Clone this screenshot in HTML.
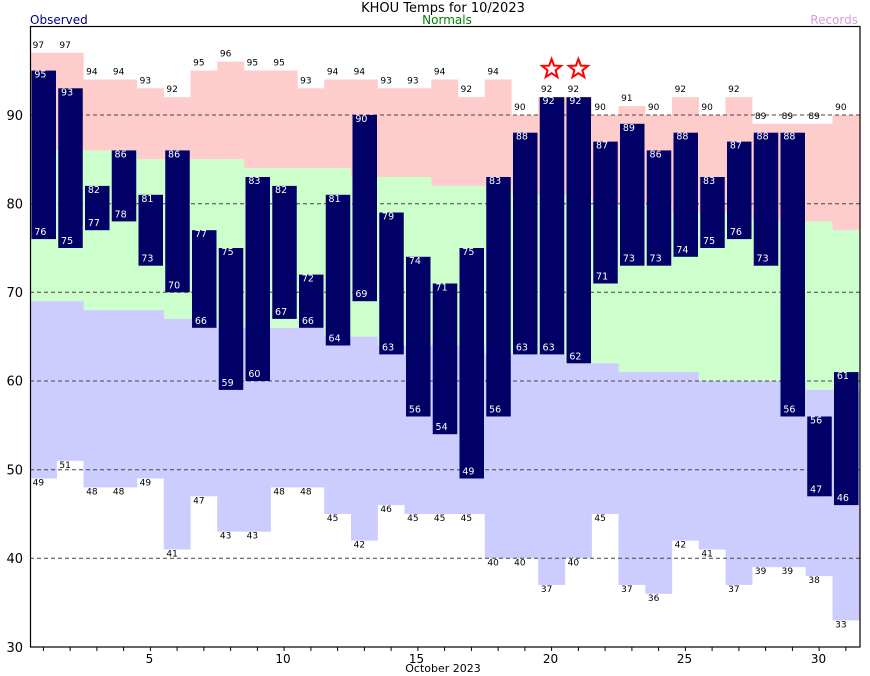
<!DOCTYPE html>
<html><head><meta charset="utf-8"><style>
html,body{margin:0;padding:0;background:#fff;}
svg{display:block;font-family:"DejaVu Sans","Liberation Sans",sans-serif;}
.rh,.rl{font-size:9px;fill:#000;text-anchor:middle;}
.oh,.ol{font-size:9.5px;fill:#fff;text-anchor:middle;}
.ya{font-size:13px;text-anchor:end;}
.xa{font-size:12px;text-anchor:middle;}
</style></head><body>
<svg width="870" height="676" viewBox="0 0 870 676" xmlns="http://www.w3.org/2000/svg">
<rect width="870" height="676" fill="#fff"/>
<g id="fills">
<g fill="#ffcccc">
<rect x="30" y="52.8" width="26.9" height="97.6"/><rect x="56.75" y="52.8" width="26.9" height="97.6"/><rect x="83.5" y="79.5" width="26.9" height="70.9"/><rect x="110.25" y="79.5" width="26.9" height="70.9"/><rect x="137" y="88.3" width="26.9" height="71"/><rect x="163.75" y="97.2" width="26.9" height="62.1"/><rect x="190.5" y="70.6" width="26.9" height="88.7"/><rect x="217.25" y="61.7" width="26.9" height="97.6"/><rect x="244" y="70.6" width="26.9" height="97.6"/><rect x="270.75" y="70.6" width="26.9" height="97.6"/><rect x="297.5" y="88.3" width="26.9" height="79.9"/><rect x="324.25" y="79.5" width="26.9" height="88.7"/><rect x="351" y="79.5" width="26.9" height="97.5"/><rect x="377.75" y="88.3" width="26.9" height="88.7"/><rect x="404.5" y="88.3" width="26.9" height="88.7"/><rect x="431.25" y="79.5" width="26.9" height="106.4"/><rect x="458" y="97.2" width="26.9" height="88.7"/><rect x="484.75" y="79.5" width="26.9" height="106.4"/><rect x="511.5" y="115" width="26.9" height="79.8"/><rect x="538.25" y="97.2" width="26.9" height="97.6"/><rect x="565" y="97.2" width="26.9" height="97.6"/><rect x="591.75" y="115" width="26.9" height="88.7"/><rect x="618.5" y="106.1" width="26.9" height="97.6"/><rect x="645.25" y="115" width="26.9" height="88.7"/><rect x="672" y="97.2" width="26.9" height="115.3"/><rect x="698.75" y="115" width="26.9" height="97.5"/><rect x="725.5" y="97.2" width="26.9" height="115.3"/><rect x="752.25" y="123.8" width="26.9" height="97.6"/><rect x="779" y="123.8" width="26.9" height="97.6"/><rect x="805.75" y="123.8" width="26.9" height="97.6"/><rect x="832.5" y="115" width="27.5" height="115.2"/>
</g>
<g fill="#ccffcc">
<rect x="30" y="150.4" width="26.9" height="150.8"/><rect x="56.75" y="150.4" width="26.9" height="150.8"/><rect x="83.5" y="150.4" width="26.9" height="159.7"/><rect x="110.25" y="150.4" width="26.9" height="159.7"/><rect x="137" y="159.3" width="26.9" height="150.8"/><rect x="163.75" y="159.3" width="26.9" height="159.6"/><rect x="190.5" y="159.3" width="26.9" height="159.6"/><rect x="217.25" y="159.3" width="26.9" height="168.5"/><rect x="244" y="168.2" width="26.9" height="159.6"/><rect x="270.75" y="168.2" width="26.9" height="159.6"/><rect x="297.5" y="168.2" width="26.9" height="159.6"/><rect x="324.25" y="168.2" width="26.9" height="168.5"/><rect x="351" y="177" width="26.9" height="159.7"/><rect x="377.75" y="177" width="26.9" height="168.5"/><rect x="404.5" y="177" width="26.9" height="168.5"/><rect x="431.25" y="185.9" width="26.9" height="159.6"/><rect x="458" y="185.9" width="26.9" height="159.6"/><rect x="484.75" y="185.9" width="26.9" height="168.5"/><rect x="511.5" y="194.8" width="26.9" height="159.6"/><rect x="538.25" y="194.8" width="26.9" height="159.6"/><rect x="565" y="194.8" width="26.9" height="168.5"/><rect x="591.75" y="203.7" width="26.9" height="159.6"/><rect x="618.5" y="203.7" width="26.9" height="168.4"/><rect x="645.25" y="203.7" width="26.9" height="168.4"/><rect x="672" y="212.5" width="26.9" height="159.6"/><rect x="698.75" y="212.5" width="26.9" height="168.5"/><rect x="725.5" y="212.5" width="26.9" height="168.5"/><rect x="752.25" y="221.4" width="26.9" height="159.6"/><rect x="779" y="221.4" width="26.9" height="159.6"/><rect x="805.75" y="221.4" width="26.9" height="168.5"/><rect x="832.5" y="230.2" width="27.5" height="159.7"/>
</g>
<g fill="#ccccff">
<rect x="30" y="301.2" width="26.9" height="177.3"/><rect x="56.75" y="301.2" width="26.9" height="159.6"/><rect x="83.5" y="310.1" width="26.9" height="177.3"/><rect x="110.25" y="310.1" width="26.9" height="177.3"/><rect x="137" y="310.1" width="26.9" height="168.4"/><rect x="163.75" y="318.9" width="26.9" height="230.6"/><rect x="190.5" y="318.9" width="26.9" height="177.4"/><rect x="217.25" y="327.8" width="26.9" height="203.9"/><rect x="244" y="327.8" width="26.9" height="203.9"/><rect x="270.75" y="327.8" width="26.9" height="159.6"/><rect x="297.5" y="327.8" width="26.9" height="159.6"/><rect x="324.25" y="336.7" width="26.9" height="177.3"/><rect x="351" y="336.7" width="26.9" height="203.9"/><rect x="377.75" y="345.5" width="26.9" height="159.6"/><rect x="404.5" y="345.5" width="26.9" height="168.5"/><rect x="431.25" y="345.5" width="26.9" height="168.5"/><rect x="458" y="345.5" width="26.9" height="168.5"/><rect x="484.75" y="354.4" width="26.9" height="203.9"/><rect x="511.5" y="354.4" width="26.9" height="203.9"/><rect x="538.25" y="354.4" width="26.9" height="230.5"/><rect x="565" y="363.3" width="26.9" height="195"/><rect x="591.75" y="363.3" width="26.9" height="150.7"/><rect x="618.5" y="372.1" width="26.9" height="212.8"/><rect x="645.25" y="372.1" width="26.9" height="221.7"/><rect x="672" y="372.1" width="26.9" height="168.5"/><rect x="698.75" y="381" width="26.9" height="168.5"/><rect x="725.5" y="381" width="26.9" height="203.9"/><rect x="752.25" y="381" width="26.9" height="186.2"/><rect x="779" y="381" width="26.9" height="186.2"/><rect x="805.75" y="389.9" width="26.9" height="186.2"/><rect x="832.5" y="389.9" width="27.5" height="230.5"/>
</g>
</g>
<g stroke="#444" stroke-width="1" stroke-dasharray="4,3">
<line x1="30" y1="115" x2="860" y2="115"/><line x1="30" y1="203.7" x2="860" y2="203.7"/><line x1="30" y1="292.3" x2="860" y2="292.3"/><line x1="30" y1="381" x2="860" y2="381"/><line x1="30" y1="469.7" x2="860" y2="469.7"/><line x1="30" y1="558.3" x2="860" y2="558.3"/>
</g>
<g fill="#000066">
<rect x="31.5" y="70.6" width="24.5" height="168.5"/><rect x="58.25" y="88.3" width="24.5" height="159.7"/><rect x="85" y="185.9" width="24.5" height="44.3"/><rect x="111.75" y="150.4" width="24.5" height="71"/><rect x="138.5" y="194.8" width="24.5" height="70.9"/><rect x="165.25" y="150.4" width="24.5" height="141.9"/><rect x="192" y="230.2" width="24.5" height="97.6"/><rect x="218.75" y="248" width="24.5" height="141.9"/><rect x="245.5" y="177" width="24.5" height="204"/><rect x="272.25" y="185.9" width="24.5" height="133"/><rect x="299" y="274.6" width="24.5" height="53.2"/><rect x="325.75" y="194.8" width="24.5" height="150.7"/><rect x="352.5" y="115" width="24.5" height="186.2"/><rect x="379.25" y="212.5" width="24.5" height="141.9"/><rect x="406" y="256.8" width="24.5" height="159.7"/><rect x="432.75" y="283.5" width="24.5" height="150.7"/><rect x="459.5" y="248" width="24.5" height="230.5"/><rect x="486.25" y="177" width="24.5" height="239.5"/><rect x="513" y="132.7" width="24.5" height="221.7"/><rect x="539.75" y="97.2" width="24.5" height="257.2"/><rect x="566.5" y="97.2" width="24.5" height="266.1"/><rect x="593.25" y="141.6" width="24.5" height="141.9"/><rect x="620" y="123.8" width="24.5" height="141.9"/><rect x="646.75" y="150.4" width="24.5" height="115.3"/><rect x="673.5" y="132.7" width="24.5" height="124.1"/><rect x="700.25" y="177" width="24.5" height="71"/><rect x="727" y="141.6" width="24.5" height="97.5"/><rect x="753.75" y="132.7" width="24.5" height="133"/><rect x="780.5" y="132.7" width="24.5" height="283.8"/><rect x="807.25" y="416.5" width="24.5" height="79.8"/><rect x="834" y="372.1" width="24.5" height="133"/>
</g>
<g transform="translate(-5,0)">
<text x="43.4" y="47.8" class="rh">97</text><text x="70.1" y="47.8" class="rh">97</text><text x="96.9" y="74.5" class="rh">94</text><text x="123.6" y="74.5" class="rh">94</text><text x="150.4" y="83.3" class="rh">93</text><text x="177.1" y="92.2" class="rh">92</text><text x="203.9" y="65.6" class="rh">95</text><text x="230.6" y="56.7" class="rh">96</text><text x="257.4" y="65.6" class="rh">95</text><text x="284.1" y="65.6" class="rh">95</text><text x="310.9" y="83.3" class="rh">93</text><text x="337.6" y="74.5" class="rh">94</text><text x="364.4" y="74.5" class="rh">94</text><text x="391.1" y="83.3" class="rh">93</text><text x="417.9" y="83.3" class="rh">93</text><text x="444.6" y="74.5" class="rh">94</text><text x="471.4" y="92.2" class="rh">92</text><text x="498.1" y="74.5" class="rh">94</text><text x="524.9" y="110" class="rh">90</text><text x="551.6" y="92.2" class="rh">92</text><text x="578.4" y="92.2" class="rh">92</text><text x="605.1" y="110" class="rh">90</text><text x="631.9" y="101.1" class="rh">91</text><text x="658.6" y="110" class="rh">90</text><text x="685.4" y="92.2" class="rh">92</text><text x="712.1" y="110" class="rh">90</text><text x="738.9" y="92.2" class="rh">92</text><text x="765.6" y="118.8" class="rh">89</text><text x="792.4" y="118.8" class="rh">89</text><text x="819.1" y="118.8" class="rh">89</text><text x="845.9" y="110" class="rh">90</text>
</g>
<g transform="translate(-5,-3)">
<text x="43.4" y="488.5" class="rl">49</text><text x="70.1" y="470.8" class="rl">51</text><text x="96.9" y="497.4" class="rl">48</text><text x="123.6" y="497.4" class="rl">48</text><text x="150.4" y="488.5" class="rl">49</text><text x="177.1" y="559.5" class="rl">41</text><text x="203.9" y="506.3" class="rl">47</text><text x="230.6" y="541.7" class="rl">43</text><text x="257.4" y="541.7" class="rl">43</text><text x="284.1" y="497.4" class="rl">48</text><text x="310.9" y="497.4" class="rl">48</text><text x="337.6" y="524" class="rl">45</text><text x="364.4" y="550.6" class="rl">42</text><text x="391.1" y="515.1" class="rl">46</text><text x="417.9" y="524" class="rl">45</text><text x="444.6" y="524" class="rl">45</text><text x="471.4" y="524" class="rl">45</text><text x="498.1" y="568.3" class="rl">40</text><text x="524.9" y="568.3" class="rl">40</text><text x="551.6" y="594.9" class="rl">37</text><text x="578.4" y="568.3" class="rl">40</text><text x="605.1" y="524" class="rl">45</text><text x="631.9" y="594.9" class="rl">37</text><text x="658.6" y="603.8" class="rl">36</text><text x="685.4" y="550.6" class="rl">42</text><text x="712.1" y="559.5" class="rl">41</text><text x="738.9" y="594.9" class="rl">37</text><text x="765.6" y="577.2" class="rl">39</text><text x="792.4" y="577.2" class="rl">39</text><text x="819.1" y="586.1" class="rl">38</text><text x="845.9" y="630.4" class="rl">33</text>
</g>
<g transform="translate(-3,-3)">
<text x="43.4" y="80.6" class="oh">95</text><text x="70.1" y="98.3" class="oh">93</text><text x="96.9" y="195.9" class="oh">82</text><text x="123.6" y="160.4" class="oh">86</text><text x="150.4" y="204.8" class="oh">81</text><text x="177.1" y="160.4" class="oh">86</text><text x="203.9" y="240.2" class="oh">77</text><text x="230.6" y="258" class="oh">75</text><text x="257.4" y="187" class="oh">83</text><text x="284.1" y="195.9" class="oh">82</text><text x="310.9" y="284.6" class="oh">72</text><text x="337.6" y="204.8" class="oh">81</text><text x="364.4" y="125" class="oh">90</text><text x="391.1" y="222.5" class="oh">79</text><text x="417.9" y="266.8" class="oh">74</text><text x="444.6" y="293.5" class="oh">71</text><text x="471.4" y="258" class="oh">75</text><text x="498.1" y="187" class="oh">83</text><text x="524.9" y="142.7" class="oh">88</text><text x="551.6" y="107.2" class="oh">92</text><text x="578.4" y="107.2" class="oh">92</text><text x="605.1" y="151.6" class="oh">87</text><text x="631.9" y="133.8" class="oh">89</text><text x="658.6" y="160.4" class="oh">86</text><text x="685.4" y="142.7" class="oh">88</text><text x="712.1" y="187" class="oh">83</text><text x="738.9" y="151.6" class="oh">87</text><text x="765.6" y="142.7" class="oh">88</text><text x="792.4" y="142.7" class="oh">88</text><text x="819.1" y="426.5" class="oh">56</text><text x="845.9" y="382.1" class="oh">61</text>
</g>
<g transform="translate(-3,0)">
<text x="43.4" y="235.1" class="ol">76</text><text x="70.1" y="244" class="ol">75</text><text x="96.9" y="226.2" class="ol">77</text><text x="123.6" y="217.4" class="ol">78</text><text x="150.4" y="261.7" class="ol">73</text><text x="177.1" y="288.3" class="ol">70</text><text x="203.9" y="323.8" class="ol">66</text><text x="230.6" y="385.9" class="ol">59</text><text x="257.4" y="377" class="ol">60</text><text x="284.1" y="314.9" class="ol">67</text><text x="310.9" y="323.8" class="ol">66</text><text x="337.6" y="341.5" class="ol">64</text><text x="364.4" y="297.2" class="ol">69</text><text x="391.1" y="350.4" class="ol">63</text><text x="417.9" y="412.5" class="ol">56</text><text x="444.6" y="430.2" class="ol">54</text><text x="471.4" y="474.5" class="ol">49</text><text x="498.1" y="412.5" class="ol">56</text><text x="524.9" y="350.4" class="ol">63</text><text x="551.6" y="350.4" class="ol">63</text><text x="578.4" y="359.3" class="ol">62</text><text x="605.1" y="279.5" class="ol">71</text><text x="631.9" y="261.7" class="ol">73</text><text x="658.6" y="261.7" class="ol">73</text><text x="685.4" y="252.8" class="ol">74</text><text x="712.1" y="244" class="ol">75</text><text x="738.9" y="235.1" class="ol">76</text><text x="765.6" y="261.7" class="ol">73</text><text x="792.4" y="412.5" class="ol">56</text><text x="819.1" y="492.3" class="ol">47</text><text x="845.9" y="501.1" class="ol">46</text>
</g>
<g fill="#fff" stroke="#ff0000" stroke-width="2" stroke-linejoin="miter">
<polygon transform="translate(551.6,69)" points="0,-10 2.47,-3.4 9.51,-3.09 4,1.3 5.88,8.09 0,4.2 -5.88,8.09 -4,1.3 -9.51,-3.09 -2.47,-3.4"/>
<polygon transform="translate(578.4,69)" points="0,-10 2.47,-3.4 9.51,-3.09 4,1.3 5.88,8.09 0,4.2 -5.88,8.09 -4,1.3 -9.51,-3.09 -2.47,-3.4"/>
</g>
<rect x="30.5" y="26.5" width="829.5" height="620.5" fill="none" stroke="#000" stroke-width="1.2"/>
<g stroke="#000" stroke-width="1">
<line x1="43.4" y1="647" x2="43.4" y2="651"/><line x1="70.1" y1="647" x2="70.1" y2="651"/><line x1="96.9" y1="647" x2="96.9" y2="651"/><line x1="123.6" y1="647" x2="123.6" y2="651"/><line x1="150.4" y1="647" x2="150.4" y2="651"/><line x1="177.1" y1="647" x2="177.1" y2="651"/><line x1="203.9" y1="647" x2="203.9" y2="651"/><line x1="230.6" y1="647" x2="230.6" y2="651"/><line x1="257.4" y1="647" x2="257.4" y2="651"/><line x1="284.1" y1="647" x2="284.1" y2="651"/><line x1="310.9" y1="647" x2="310.9" y2="651"/><line x1="337.6" y1="647" x2="337.6" y2="651"/><line x1="364.4" y1="647" x2="364.4" y2="651"/><line x1="391.1" y1="647" x2="391.1" y2="651"/><line x1="417.9" y1="647" x2="417.9" y2="651"/><line x1="444.6" y1="647" x2="444.6" y2="651"/><line x1="471.4" y1="647" x2="471.4" y2="651"/><line x1="498.1" y1="647" x2="498.1" y2="651"/><line x1="524.9" y1="647" x2="524.9" y2="651"/><line x1="551.6" y1="647" x2="551.6" y2="651"/><line x1="578.4" y1="647" x2="578.4" y2="651"/><line x1="605.1" y1="647" x2="605.1" y2="651"/><line x1="631.9" y1="647" x2="631.9" y2="651"/><line x1="658.6" y1="647" x2="658.6" y2="651"/><line x1="685.4" y1="647" x2="685.4" y2="651"/><line x1="712.1" y1="647" x2="712.1" y2="651"/><line x1="738.9" y1="647" x2="738.9" y2="651"/><line x1="765.6" y1="647" x2="765.6" y2="651"/><line x1="792.4" y1="647" x2="792.4" y2="651"/><line x1="819.1" y1="647" x2="819.1" y2="651"/><line x1="845.9" y1="647" x2="845.9" y2="651"/>
</g>
<g class="xa">
<text x="149.5" y="663" class="xa">5</text><text x="283" y="663" class="xa">10</text><text x="416.5" y="663" class="xa">15</text><text x="550.5" y="663" class="xa">20</text><text x="684.5" y="663" class="xa">25</text><text x="818.5" y="663" class="xa">30</text>
<text x="443" y="672" style="font-size:11px;text-anchor:middle">October 2023</text>
</g>
<g>
<text x="23" y="120" class="ya">90</text><text x="23" y="208.5" class="ya">80</text><text x="23" y="297" class="ya">70</text><text x="23" y="385.5" class="ya">60</text><text x="23" y="474.5" class="ya">50</text><text x="23" y="563" class="ya">40</text><text x="23" y="652" class="ya">30</text>
</g>
<text x="443" y="12" style="font-size:13px;text-anchor:middle;fill:#000">KHOU Temps for 10/2023</text>
<text x="30" y="24" style="font-size:12px;fill:#000080">Observed</text>
<text x="447" y="24" style="font-size:12px;text-anchor:middle;fill:#008000">Normals</text>
<text x="858" y="24" style="font-size:12px;text-anchor:end;fill:#d8a0d8">Records</text>
</svg>
</body></html>
